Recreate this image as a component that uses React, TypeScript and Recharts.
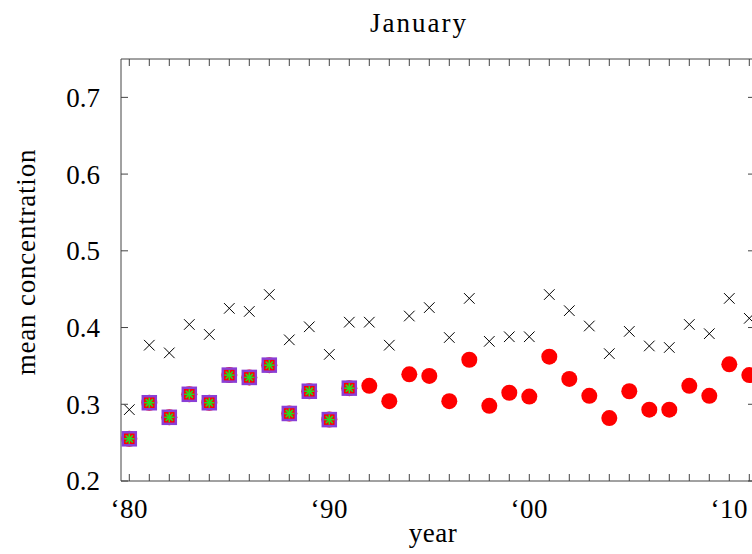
import React from 'react';
import { ScatterChart, Scatter, XAxis, YAxis, Customized } from 'recharts';

const years = [1980, 1981, 1982, 1983, 1984, 1985, 1986, 1987, 1988, 1989, 1990, 1991, 1992, 1993, 1994, 1995, 1996, 1997, 1998, 1999, 2000, 2001, 2002, 2003, 2004, 2005, 2006, 2007, 2008, 2009, 2010, 2011];
const crossValues = [0.293, 0.377, 0.367, 0.404, 0.391, 0.425, 0.421, 0.443, 0.384, 0.401, 0.365, 0.407, 0.407, 0.377, 0.415, 0.426, 0.387, 0.438, 0.382, 0.388, 0.388, 0.443, 0.422, 0.402, 0.366, 0.395, 0.376, 0.374, 0.404, 0.392, 0.438, 0.412];
const circleValues = [0.255, 0.302, 0.283, 0.313, 0.302, 0.338, 0.335, 0.351, 0.288, 0.317, 0.280, 0.321, 0.324, 0.304, 0.339, 0.337, 0.304, 0.358, 0.298, 0.315, 0.310, 0.362, 0.333, 0.311, 0.282, 0.317, 0.293, 0.293, 0.324, 0.311, 0.352, 0.338];
const squareYears = [1980, 1981, 1982, 1983, 1984, 1985, 1986, 1987, 1988, 1989, 1990, 1991];
const squareValues = [0.255, 0.302, 0.283, 0.313, 0.302, 0.338, 0.335, 0.351, 0.288, 0.317, 0.280, 0.321];
const yTicks = [0.2, 0.3, 0.4, 0.5, 0.6, 0.7];
const decadeLabels: Record<number, string> = { 1980: '\u201880', 1990: '\u201890', 2000: '\u201800', 2010: '\u201810' };
const titleText = 'January';
const xLabel = 'year';
const yLabel = 'mean concentration';

const crossData = years.map((year, i) => ({ year, value: crossValues[i] }));
const circleData = years.map((year, i) => ({ year, value: circleValues[i] }));
const squareData = squareYears.map((year, i) => ({ year, value: squareValues[i] }));

const FONT = '"Liberation Serif", serif';
const FS = 27;
const AXIS = '#444';
const TL = 7;
const xDomain = [1979.585, 2011.285];
const yDomain = [0.2, 0.75];

const BottomTick = (props: any) => {
  const { x, y, payload } = props;
  const label = decadeLabels[payload.value];
  return (
    <g>
      <line x1={x} x2={x} y1={y} y2={y - TL} stroke={AXIS} strokeWidth={1} />
      {label ? (
        <text x={x} y={y + 37} textAnchor="middle" fontFamily={FONT} fontSize={FS} letterSpacing={0.6} fill="#000">{label}</text>
      ) : null}
    </g>
  );
};

const TopTick = (props: any) => {
  const { x, y } = props;
  return <line x1={x} x2={x} y1={y} y2={y + TL} stroke={AXIS} strokeWidth={1} />;
};

const LeftTick = (props: any) => {
  const { x, y, payload } = props;
  return (
    <g>
      <line x1={x} x2={x + TL} y1={y} y2={y} stroke={AXIS} strokeWidth={1} />
      <text x={x - 21} y={y} dy="0.35em" textAnchor="end" fontFamily={FONT} fontSize={FS} fill="#000">{payload.value.toFixed(1)}</text>
    </g>
  );
};

const RightTick = (props: any) => {
  const { x, y } = props;
  return <line x1={x - TL} x2={x} y1={y} y2={y} stroke={AXIS} strokeWidth={1} />;
};

const CrossShape = (props: any) => {
  const { cx, cy } = props;
  const s = 5.3;
  return (
    <g>
      <line x1={cx - s} y1={cy - s} x2={cx + s} y2={cy + s} stroke="#000" strokeWidth={1} />
      <line x1={cx - s} y1={cy + s} x2={cx + s} y2={cy - s} stroke="#000" strokeWidth={1} />
    </g>
  );
};

const CircleShape = (props: any) => {
  const { cx, cy } = props;
  return <circle cx={cx} cy={cy} r={8} fill="#ff0000" />;
};

const SquareStarShape = (props: any) => {
  const { cx, cy } = props;
  const h = 6.5;
  const s = 5;
  const d = 3.6;
  const g = '#22dd22';
  return (
    <g>
      <rect x={cx - h} y={cy - h} width={2 * h} height={2 * h} fill="none" stroke="#8a3fd6" strokeWidth={2.5} />
      <line x1={cx - s} y1={cy} x2={cx + s} y2={cy} stroke={g} strokeWidth={1.6} />
      <line x1={cx} y1={cy - s} x2={cx} y2={cy + s} stroke={g} strokeWidth={1.6} />
      <line x1={cx - d} y1={cy - d} x2={cx + d} y2={cy + d} stroke={g} strokeWidth={1.6} />
      <line x1={cx - d} y1={cy + d} x2={cx + d} y2={cy - d} stroke={g} strokeWidth={1.6} />
    </g>
  );
};

const Labels = () => (
  <g>
    <text x={419} y={32} textAnchor="middle" fontFamily={FONT} fontSize={FS} letterSpacing={2} fill="#000">{titleText}</text>
    <text x={433} y={542} textAnchor="middle" fontFamily={FONT} fontSize={FS} letterSpacing={0.5} fill="#000">{xLabel}</text>
    <text x={35} y={262} transform="rotate(-90 35 262)" textAnchor="middle" fontFamily={FONT} fontSize={FS} letterSpacing={0.8} fill="#000">{yLabel}</text>
  </g>
);

export default function App() {
  return (
    <>
      <style>{'html, body { margin: 0; padding: 0; overflow: hidden; }'}</style>
      <div style={{ width: 752, height: 554, overflow: 'hidden' }}>
        <ScatterChart width={768} height={554} margin={{ top: 29, right: 3, bottom: 33, left: 61 }}>
          <XAxis dataKey="year" type="number" xAxisId="bottom" domain={xDomain} ticks={years} interval={0} allowDataOverflow
            height={40} tickSize={0} tickMargin={0} tickLine={false} axisLine={{ stroke: AXIS }} tick={BottomTick} />
          <XAxis dataKey="year" type="number" xAxisId="top" orientation="top" domain={xDomain} ticks={years} interval={0} allowDataOverflow
            height={30} tickSize={0} tickMargin={0} tickLine={false} axisLine={{ stroke: AXIS }} tick={TopTick} />
          <YAxis dataKey="value" type="number" yAxisId="left" domain={yDomain} ticks={yTicks} interval={0} allowDataOverflow
            width={60} tickSize={0} tickMargin={0} tickLine={false} axisLine={{ stroke: AXIS }} tick={LeftTick} />
          <YAxis dataKey="value" type="number" yAxisId="right" orientation="right" domain={yDomain} ticks={yTicks} interval={0} allowDataOverflow
            width={10} tickSize={0} tickMargin={0} tickLine={false} axisLine={{ stroke: AXIS }} tick={RightTick} />
          <Scatter data={crossData} xAxisId="bottom" yAxisId="left" shape={CrossShape} isAnimationActive={false} />
          <Scatter data={circleData} xAxisId="bottom" yAxisId="left" shape={CircleShape} isAnimationActive={false} />
          <Scatter data={squareData} xAxisId="bottom" yAxisId="left" shape={SquareStarShape} isAnimationActive={false} />
          <Customized component={Labels} />
        </ScatterChart>
      </div>
    </>
  );
}
